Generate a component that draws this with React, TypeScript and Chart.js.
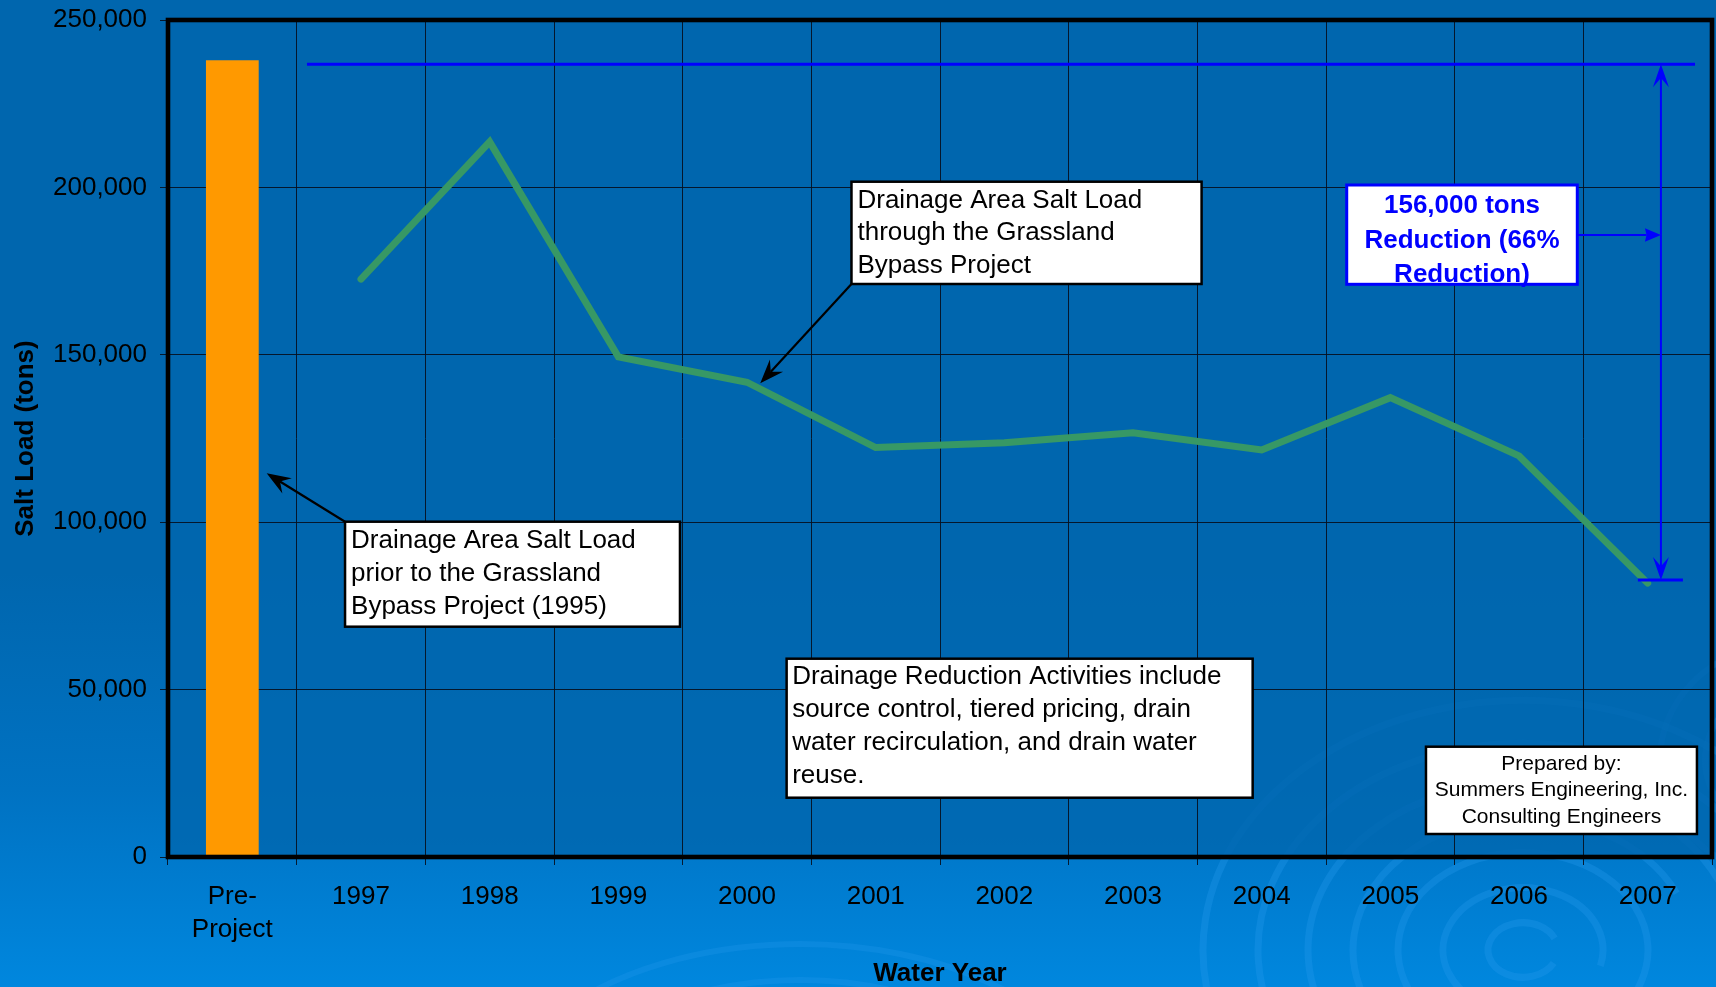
import React, { useEffect, useRef } from 'react';
import { Chart, registerables } from 'chart.js';

Chart.register(...registerables);

const FONT = "'Liberation Sans', Arial, Helvetica, sans-serif";

// ---------------- data ----------------
const categories: (string | string[])[] = [
  ['Pre-', 'Project'], '1997', '1998', '1999', '2000', '2001', '2002', '2003', '2004', '2005', '2006', '2007',
];
const preProjectLoad = [238000, null, null, null, null, null, null, null, null, null, null, null];
const annualLoad = [null, 172600, 213600, 149400, 141800, 122300, 123700, 126700, 121600, 137200, 119800, 81800];
const yTickValues = [0, 50000, 100000, 150000, 200000, 250000];

const reductionTop = 236800;
const reductionBottom = 82700;
const reductionArrowLevel = 185800;

const noteThrough = ['Drainage Area Salt Load', 'through the Grassland', 'Bypass Project'];
const notePrior = ['Drainage Area Salt Load', 'prior to the Grassland', 'Bypass Project (1995)'];
const noteActivities = [
  'Drainage Reduction Activities include',
  'source control, tiered pricing, drain',
  'water recirculation, and drain water',
  'reuse.',
];
const notePrepared = ['Prepared by:', 'Summers Engineering, Inc.', 'Consulting Engineers'];
const noteReduction = ['156,000 tons', 'Reduction (66%', 'Reduction)'];

// ------------- annotation layout (x = category index, y = tons) -------------
const textBoxes = [
  { lines: noteThrough, x1: 4.812, x2: 7.533, yTop: 201700, yBottom: 171150, align: 'left', size: 26, bold: false, color: '#000000', border: '#000000', borderWidth: 2.5, first: 16.5, step: 32.7, inset: 6 },
  { lines: notePrior, x1: 0.876, x2: 3.479, yTop: 100150, yBottom: 68790, align: 'left', size: 26, bold: false, color: '#000000', border: '#000000', borderWidth: 2.5, first: 17.3, step: 32.8, inset: 6 },
  { lines: noteActivities, x1: 4.308, x2: 7.93, yTop: 59230, yBottom: 17710, align: 'left', size: 26, bold: false, color: '#000000', border: '#000000', borderWidth: 2.5, first: 16.3, step: 33, inset: 5.5 },
  { lines: notePrepared, x1: 9.277, x2: 11.383, yTop: 32945, yBottom: 6870, align: 'center', size: 21, bold: false, color: '#000000', border: '#000000', borderWidth: 2.5, first: 15.3, step: 26.5, inset: 0 },
  { lines: noteReduction, x1: 8.661, x2: 10.453, yTop: 200717, yBottom: 171058, align: 'center', size: 26, bold: true, color: '#0000FF', border: '#0000FF', borderWidth: 3, first: 18.3, step: 34.9, inset: 0 },
];

const arrows = [
  { from: [4.812, 171150], to: [4.103, 141490], color: '#000000', width: 2.2, head: 24, half: 9, notch: 0.65 },
  { from: [0.876, 100150], to: [0.267, 114610], color: '#000000', width: 2.2, head: 24, half: 9, notch: 0.65 },
  { from: [10.453, reductionArrowLevel], to: [11.103, reductionArrowLevel], color: '#0000FF', width: 2, head: 16, half: 6.7, notch: 0.9 },
  { from: [11.103, reductionArrowLevel], to: [11.103, reductionTop], color: '#0000FF', width: 2, head: 23, half: 8, notch: 0.6 },
  { from: [11.103, reductionArrowLevel], to: [11.103, reductionBottom], color: '#0000FF', width: 2, head: 23, half: 8, notch: 0.6 },
];

const rules = [
  { from: [0.58, reductionTop], to: [11.368, reductionTop], color: '#0000FF', width: 3 },
  { from: [10.924, reductionBottom], to: [11.274, reductionBottom], color: '#0000FF', width: 3 },
];

const GRID = 'rgba(5,15,30,0.9)';

function drawArrow(ctx: CanvasRenderingContext2D, x1: number, y1: number, x2: number, y2: number, color: string, width: number, head: number, half: number, notch: number) {
  const ang = Math.atan2(y2 - y1, x2 - x1);
  const c = Math.cos(ang);
  const s = Math.sin(ang);
  const bx = x2 - head * c;
  const by = y2 - head * s;
  const nx = x2 - head * notch * c;
  const ny = y2 - head * notch * s;
  ctx.strokeStyle = color;
  ctx.lineWidth = width;
  ctx.beginPath();
  ctx.moveTo(x1, y1);
  ctx.lineTo(nx, ny);
  ctx.stroke();
  ctx.fillStyle = color;
  ctx.beginPath();
  ctx.moveTo(x2, y2);
  ctx.lineTo(bx - half * s, by + half * c);
  ctx.lineTo(nx, ny);
  ctx.lineTo(bx + half * s, by - half * c);
  ctx.closePath();
  ctx.fill();
}

function ripple(ctx: CanvasRenderingContext2D, cx: number, cy: number, radii: number[], ratio: number, width: number, color: string) {
  ctx.strokeStyle = color;
  ctx.lineWidth = width;
  radii.forEach((r, i) => {
    ctx.beginPath();
    const gap = 0.5 + (i % 3) * 0.7;
    ctx.ellipse(cx, cy, r, r * ratio, 0, gap, gap + Math.PI * 1.7);
    ctx.stroke();
  });
}

export default function App() {
  const ref = useRef<HTMLCanvasElement>(null);

  useEffect(() => {
    const canvas = ref.current;
    if (!canvas) return;
    const px = (chart: any, v: number) => chart.scales.x.getPixelForValue(v);
    const py = (chart: any, v: number) => chart.scales.y.getPixelForValue(v);

    const backdrop = {
      id: 'backdrop',
      beforeDraw(chart: any) {
        const { ctx, chartArea: a } = chart;
        ctx.save();
        ripple(ctx, 1523, 950, [35, 80, 125, 170, 215, 265, 320], 0.78, 7, 'rgba(40,155,240,0.3)');
        ripple(ctx, 1790, 760, [40, 85, 130], 0.9, 6, 'rgba(40,155,240,0.28)');
        ripple(ctx, 800, 1130, [190, 250, 310], 0.6, 6, 'rgba(40,155,240,0.25)');
        ctx.fillStyle = 'rgba(0,102,174,0.82)';
        ctx.fillRect(a.left, a.top, a.right - a.left, a.bottom - a.top);
        ctx.restore();
      },
    };

    const frame = {
      id: 'frame',
      afterDatasetsDraw(chart: any) {
        const { ctx, chartArea: a } = chart;
        ctx.save();
        ctx.strokeStyle = '#000000';
        ctx.lineWidth = 4.6;
        ctx.strokeRect(a.left, a.top, a.right - a.left, a.bottom - a.top);
        ctx.restore();
      },
    };

    const notes = {
      id: 'notes',
      afterDraw(chart: any) {
        const ctx: CanvasRenderingContext2D = chart.ctx;
        ctx.save();
        rules.forEach((r) => {
          ctx.strokeStyle = r.color;
          ctx.lineWidth = r.width;
          ctx.beginPath();
          ctx.moveTo(px(chart, r.from[0]), py(chart, r.from[1]));
          ctx.lineTo(px(chart, r.to[0]), py(chart, r.to[1]));
          ctx.stroke();
        });
        arrows.forEach((a) => {
          drawArrow(ctx, px(chart, a.from[0]), py(chart, a.from[1]), px(chart, a.to[0]), py(chart, a.to[1]), a.color, a.width, a.head, a.half, a.notch);
        });
        textBoxes.forEach((b) => {
          const l = px(chart, b.x1);
          const r = px(chart, b.x2);
          const t = py(chart, b.yTop);
          const bt = py(chart, b.yBottom);
          ctx.fillStyle = '#FFFFFF';
          ctx.fillRect(l, t, r - l, bt - t);
          ctx.lineWidth = b.borderWidth;
          ctx.strokeStyle = b.border;
          ctx.strokeRect(l, t, r - l, bt - t);
          ctx.fillStyle = b.color;
          ctx.font = `${b.bold ? 'bold ' : ''}${b.size}px ${FONT}`;
          ctx.textBaseline = 'alphabetic';
          ctx.textAlign = b.align as CanvasTextAlign;
          const tx = b.align === 'center' ? (l + r) / 2 : l + b.inset;
          b.lines.forEach((s, i) => {
            ctx.fillText(s, tx, t + b.first + i * b.step + 0.358 * b.size);
          });
        });
        ctx.restore();
      },
    };

    const chart = new Chart(canvas, {
      type: 'bar',
      data: {
        labels: categories as any,
        datasets: [
          {
            type: 'bar',
            data: preProjectLoad as any,
            backgroundColor: '#FF9900',
            borderWidth: 0,
            barPercentage: 0.41,
            categoryPercentage: 1,
            order: 2,
          },
          {
            type: 'line',
            data: annualLoad as any,
            borderColor: '#379865',
            borderWidth: 7,
            pointRadius: 0,
            pointHoverRadius: 0,
            borderCapStyle: 'round',
            borderJoinStyle: 'miter',
            fill: false,
            tension: 0,
            order: 1,
          } as any,
        ],
      },
      options: {
        responsive: false,
        animation: false,
        devicePixelRatio: 1,
        layout: { padding: { left: 0, top: 20, right: 4, bottom: 0 } },
        plugins: { legend: { display: false }, tooltip: { enabled: false } },
        scales: {
          x: {
            type: 'category',
            offset: true,
            grid: { offset: true, color: GRID, lineWidth: 1, tickLength: 8, drawTicks: true },
            border: { display: false },
            ticks: {
              color: '#000000',
              font: { family: FONT, size: 26, lineHeight: 1.27 },
              padding: 15.5,
              maxRotation: 0,
              minRotation: 0,
              autoSkip: false,
            },
            title: {
              display: true,
              text: 'Water Year',
              color: '#000000',
              font: { family: FONT, size: 26, weight: 'bold', lineHeight: 1 },
              padding: { top: 1, bottom: 0 },
            },
            afterFit: (s: any) => {
              s.height = 130;
              s.paddingLeft = 0;
              s.paddingRight = 0;
            },
          },
          y: {
            min: 0,
            max: 250000,
            afterBuildTicks: (s: any) => {
              s.ticks = yTickValues.map((v) => ({ value: v }));
            },
            grid: { color: GRID, lineWidth: 1, tickLength: 8, drawTicks: true },
            border: { display: false },
            ticks: {
              color: '#000000',
              font: { family: FONT, size: 26, lineHeight: 0.5 },
              padding: 13,
              callback: (v: any) => Number(v).toLocaleString('en-US'),
            },
            title: {
              display: true,
              text: 'Salt Load (tons)',
              color: '#000000',
              font: { family: FONT, size: 26, weight: 'bold', lineHeight: 1 },
              padding: { top: 13, bottom: 0 },
            },
            afterFit: (s: any) => {
              s.width = 168;
              s.paddingTop = 0;
              s.paddingBottom = 0;
            },
          },
        },
      } as any,
      plugins: [backdrop, frame, notes],
    });

    return () => chart.destroy();
  }, []);

  return (
    <div
      style={{
        position: 'fixed',
        left: 0,
        top: 0,
        width: 1716,
        height: 987,
        overflow: 'hidden',
        background: 'linear-gradient(to bottom, #0066AE 0%, #0066AE 58%, #0072C2 80%, #0087DE 100%)',
      }}
    >
      <canvas ref={ref} width={1716} height={987} style={{ display: 'block', width: 1716, height: 987 }} />
    </div>
  );
}
